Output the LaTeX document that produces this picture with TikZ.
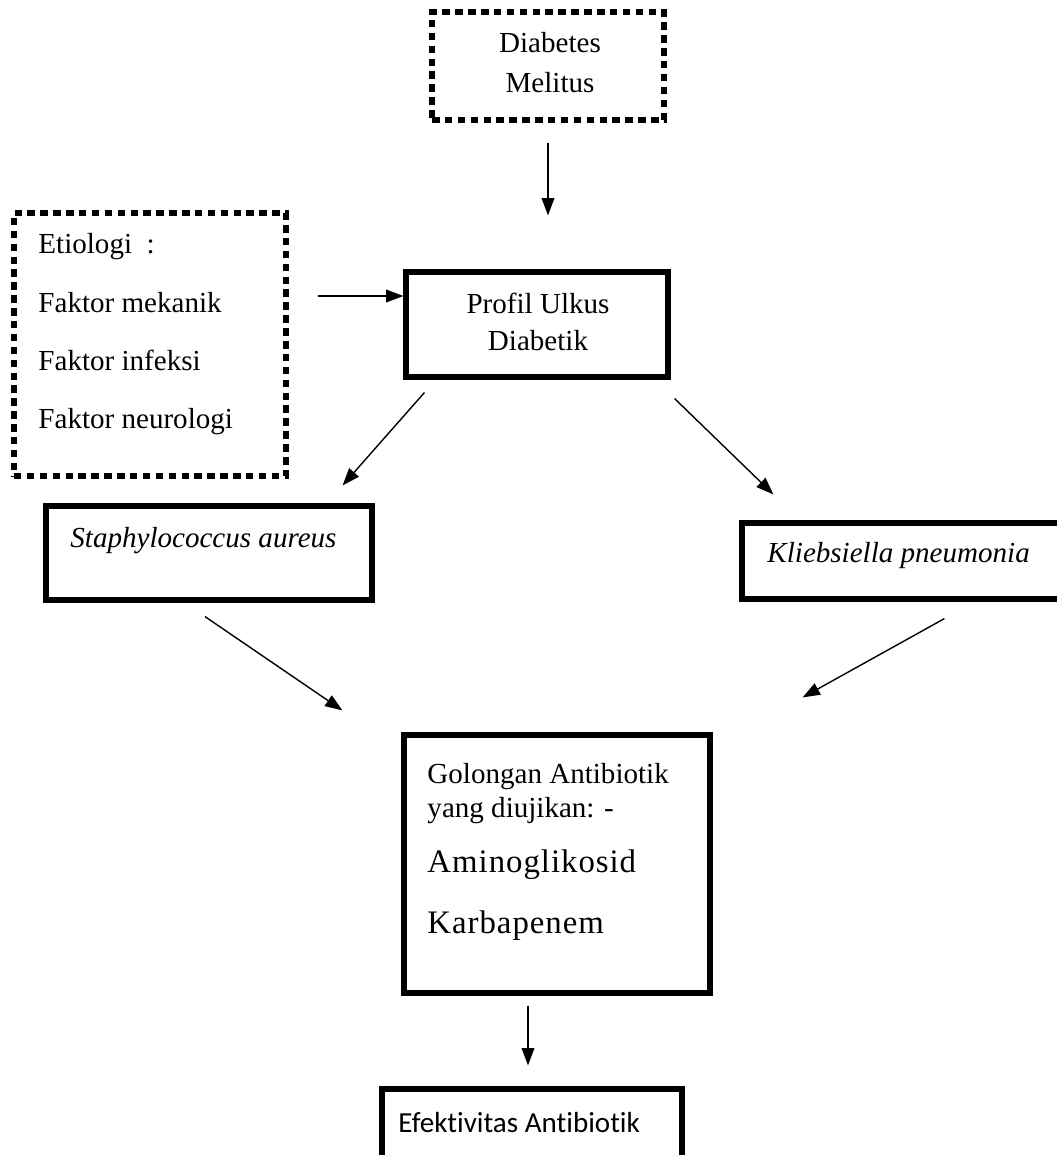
\documentclass[tikz,border=0pt]{standalone}
\usepackage{fontspec}
\setmainfont{Liberation Serif}
\newfontfamily\carlito[Ligatures=NoCommon]{Carlito}
\newfontfamily\spaced[LetterSpace=3]{Liberation Serif}
\usetikzlibrary{arrows.meta,calc}

\tikzset{
  dotbox/.style={draw, line width=2.2pt, dash pattern=on 3.2pt off 2.3pt, inner sep=0pt},
  solidbox/.style={draw, line width=2.2pt, inner sep=0pt},
  txt/.style={inner sep=0pt, font=\fontsize{12.4}{15}\selectfont},
  bigtxt/.style={inner sep=0pt, font=\fontsize{14}{17}\spaced},
  arr/.style={-{Triangle[length=2.6mm,width=1.9mm]}, line width=0.6pt},
}

\begin{document}
\begin{tikzpicture}[x=0.015cm,y=-0.015cm]
\useasboundingbox (0,0) rectangle (1056,1155);

% boxes
\node[dotbox, minimum width=3.48cm, minimum height=1.62cm] (dm) at (548,66) {};
\node[dotbox, minimum width=4.08cm, minimum height=3.945cm] (eti) at (150,344.5) {};
\node[solidbox, minimum width=3.93cm, minimum height=1.575cm] (pro) at (537,324.5) {};
\node[solidbox, minimum width=4.89cm, minimum height=1.41cm] (sa) at (209,553) {};
\node[solidbox, minimum width=5.1cm, minimum height=1.14cm] (kp) at (912,561) {};
\node[solidbox, minimum width=4.59cm, minimum height=3.87cm] (go) at (557,864) {};
\node[solidbox, minimum width=4.5cm, minimum height=1.14cm] (ef) at (532,1127) {};

% texts
\node[txt, anchor=base] (dm-1) at (550,53) {Diabetes};
\node[txt, anchor=base] (dm-2) at (550,93) {Melitus};
\node[txt, anchor=base west] (eti-1) at (38,253) {Etiologi~ :};
\node[txt, anchor=base west] (eti-2) at (38,312) {Faktor mekanik};
\node[txt, anchor=base west] (eti-3) at (38,370) {Faktor infeksi};
\node[txt, anchor=base west] (eti-4) at (38,428) {Faktor neurologi};
\node[txt, anchor=base] (pro-1) at (538,313) {Profil Ulkus};
\node[txt, anchor=base] (pro-2) at (538,350) {Diabetik};
\node[txt, anchor=base west] (sa-1) at (70,547) {\itshape Staphylococcus aureus};
\node[txt, anchor=base west] (kp-1) at (767,562) {\itshape Kliebsiella pneumonia};
\node[txt, anchor=base west] (go-1) at (427,783) {Golongan Antibiotik};
\node[txt, anchor=base west] (go-2) at (427,817) {yang diujikan: -};
\node[bigtxt, anchor=base west] (go-3) at (427,872) {Aminoglikosid};
\node[bigtxt, anchor=base west] (go-4) at (427,933) {Karbapenem};
\node[txt, anchor=base west] (ef-1) at (398,1132) {\carlito Efektivitas Antibiotik};

% arrows
\draw[arr] ($(dm.south)+(0,20)$) -- ($(dm.south |- pro.north)+(0,-54)$);
\draw[arr] ($(eti.east)+(29,-48.5)$) -- ($(pro.west)+(0,-28.5)$);
\draw[arr] ($(pro.south west)+(21,13)$) -- ($(sa.north east)+(-32,-18)$);
\draw[arr] ($(pro.south east)+(4,19)$) -- ($(kp.north west)+(34,-26)$);
\draw[arr] ($(sa.south)+(-4,14)$) -- ($(go.north west)+(-59,-22)$);
\draw[arr] ($(kp.south west)+(205,17)$) -- ($(go.north east)+(90,-35)$);
\draw[arr] ($(go.south)+(-29,10)$) -- ($(ef.north)+(-4,-21)$);
\end{tikzpicture}
\end{document}
